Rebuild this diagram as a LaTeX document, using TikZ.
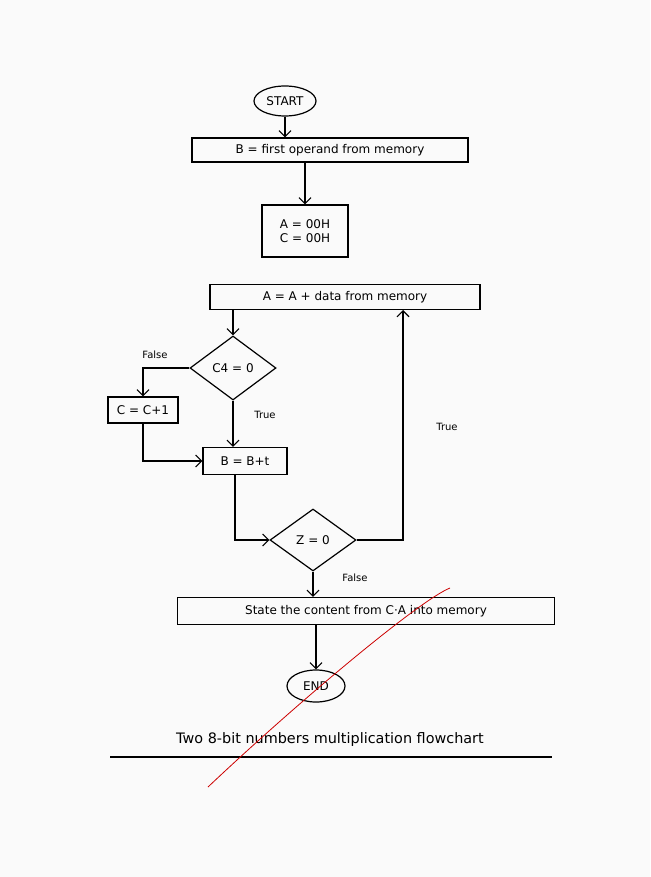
\documentclass[tikz,border=0pt]{standalone}
\usepackage{fontspec}
\setmainfont{DejaVu Sans}
\usetikzlibrary{shapes.geometric,arrows.meta}
\begin{document}
\begin{tikzpicture}[x=1pt,y=-1pt,
  box/.style={draw,line width=1.2pt,inner sep=2pt,font=\large},
  term/.style={draw,line width=1.2pt,ellipse,minimum width=62pt,minimum height=30pt,inner sep=0pt,font=\large},
  dec/.style={draw,line width=1.2pt,diamond,aspect=1.4,minimum width=86pt,minimum height=64pt,inner sep=0pt,font=\large},
  arr/.style={line width=1.1pt,-{Straight Barb[length=6pt]}},
  lbl/.style={font=\normalsize}]
\fill[white!96!gray] (0,0) rectangle (650,877);
\useasboundingbox (0,0) rectangle (650,877);
\node[term] (start) at (285,101) {START};
\node[box,minimum width=276pt,minimum height=24pt] (b) at (330,150) {B = first operand from memory};
\node[box,minimum width=86pt,minimum height=52pt,align=center] (ac) at (305,231) {A = 00H\\C = 00H};
\node[box,minimum width=270pt,minimum height=25pt] (aa) at (345,297) {A = A + data from memory};
\node[dec] (cy) at (233,368) {C4 = 0};
\node[box,minimum width=70pt,minimum height=26pt] (cc) at (143,410) {C = C+1};
\node[box,minimum width=84pt,minimum height=27pt] (bb) at (245,461) {B = B+t};
\node[dec,minimum height=62pt] (z) at (313,540) {Z = 0};
\node[box,minimum width=377pt,minimum height=27pt] (st) at (366,611) {State the content from C·A into memory};
\node[term,minimum width=58pt,minimum height=32pt] (end) at (316,686) {END};
\node[font=\Large] (cap) at (330,740) {Two 8-bit numbers multiplication flowchart};
\coordinate (u1) at (110,757); \coordinate (u2) at (552,757);
\draw[line width=1.2pt] (u1) -- (u2);
\draw[arr] (start.south) -- (start.south |- b.north);
\draw[arr] (b.south -| ac.north) -- (ac.north);
\draw[arr] (aa.south -| cy.north) -- (cy.north);
\draw[arr] (cy.west) -| (cc.north);
\draw[arr] (cy.south) -- (cy.south |- bb.north);
\draw[arr] (cc.south) |- (bb.west);
\draw[arr] (bb.south -| 235,0) |- (z.west);
\draw[arr] (z.east) -| (403,310);
\draw[arr] (z.south) -- (z.south |- st.north);
\draw[arr] (st.south -| end.north) -- (end.north);
\node[lbl] (f1) at (155,355) {False};
\node[lbl] (t1) at (265,415) {True};
\node[lbl] (t2) at (447,427) {True};
\node[lbl] (f2) at (355,578) {False};
\draw[red!80!black,thick] (208,787) .. controls (300,700) and (420,600) .. (450,588);
\end{tikzpicture}
\end{document}
